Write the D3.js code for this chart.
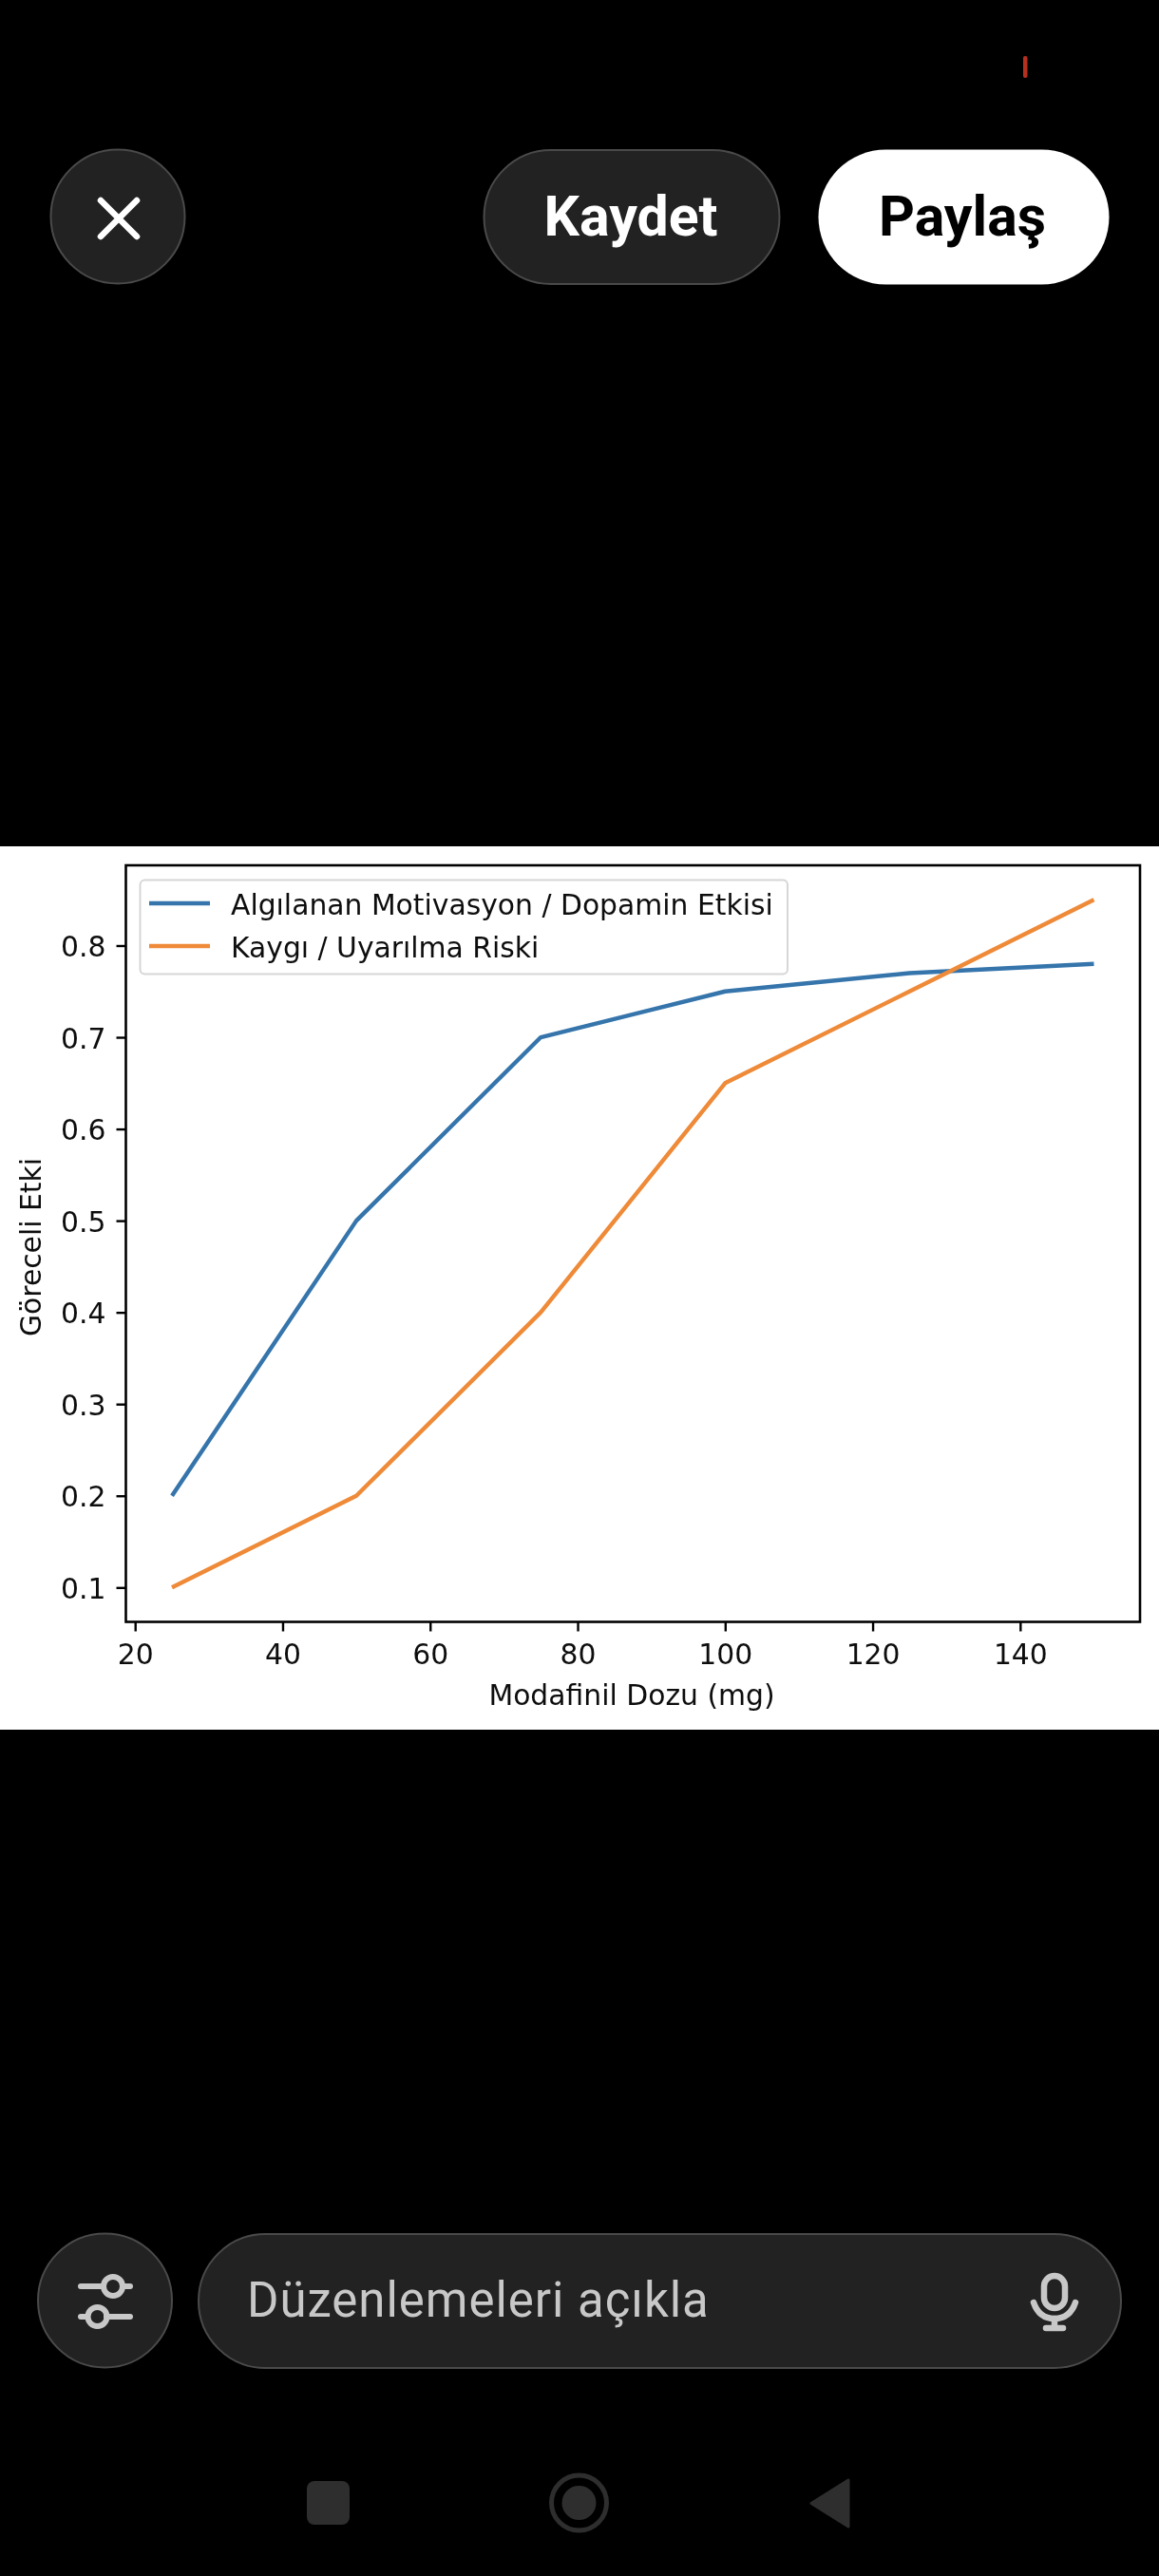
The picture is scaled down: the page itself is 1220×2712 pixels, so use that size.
<!DOCTYPE html>
<html>
<head>
<meta charset="utf-8">
<script src="https://cdn.jsdelivr.net/npm/d3@7"></script>
<style>
  html, body { margin: 0; padding: 0; background: #000; }
  svg { display: block; }
  .chart text { font-family: "DejaVu Sans", sans-serif; fill: #111; }
</style>
</head>
<body>
<svg id="canvas"></svg>
<script>
let doses = [25, 50, 75, 100, 125, 150];
let motivation = [0.2, 0.5, 0.7, 0.75, 0.77, 0.78];
let anxiety = [0.1, 0.2, 0.4, 0.65, 0.75, 0.85];
let seriesNames = ['Algılanan Motivasyon / Dopamin Etkisi', 'Kaygı / Uyarılma Riski'];
let seriesColors = ['#3574ab', '#ee8a38'];
let xTicks = [20, 40, 60, 80, 100, 120, 140];
let yTicks = [0.1, 0.2, 0.3, 0.4, 0.5, 0.6, 0.7, 0.8];

let width = 1220;
let height = 2712;
let plot = { left: 132.5, right: 1200, top: 911, bottom: 1707.5 };
let chartFont = 29.8;

let canvas = d3.select('#canvas')
    .attr('width', width)
    .attr('height', height)
    .attr('viewBox', `0 0 ${width} ${height}`);

let defs = canvas.append('defs');
defs.append('filter')
    .attr('id', 'soft')
    .append('feGaussianBlur')
    .attr('stdDeviation', 0.65);

let xScale = d3.scaleLinear().domain([18.75, 156.25]).range([plot.left, plot.right]);
let yScale = d3.scaleLinear().domain([0.0625, 0.8875]).range([plot.bottom, plot.top]);

let drawChart = () => {
    canvas.append('rect')
        .attr('x', 0).attr('y', 891)
        .attr('width', width).attr('height', 930)
        .attr('fill', '#fff');

    let chart = canvas.append('g')
        .attr('class', 'chart')
        .attr('filter', 'url(#soft)');

    let lineGen = d3.line()
        .x((d, i) => xScale(doses[i]))
        .y(d => yScale(d));

    [motivation, anxiety].forEach((values, i) => {
        chart.append('path')
            .attr('d', lineGen(values))
            .attr('fill', 'none')
            .attr('stroke', seriesColors[i])
            .attr('stroke-width', 4.4)
            .attr('stroke-linejoin', 'round');
    });

    let xAxis = d3.axisBottom(xScale).tickValues(xTicks).tickSize(10).tickPadding(13);
    let yAxis = d3.axisLeft(yScale).tickValues(yTicks).tickSize(10).tickPadding(11).tickFormat(d3.format('.1f'));

    let gx = chart.append('g')
        .attr('transform', `translate(0, ${plot.bottom})`)
        .call(xAxis);
    let gy = chart.append('g')
        .attr('transform', `translate(${plot.left}, 0)`)
        .call(yAxis);

    [gx, gy].forEach(g => {
        g.select('.domain').remove();
        g.selectAll('line').attr('stroke', '#000').attr('stroke-width', 2.4);
        g.selectAll('text').attr('font-size', chartFont).attr('fill', '#111');
    });
    gy.selectAll('text').attr('dy', '0.37em');

    chart.append('rect')
        .attr('x', plot.left).attr('y', plot.top)
        .attr('width', plot.right - plot.left).attr('height', plot.bottom - plot.top)
        .attr('fill', 'none')
        .attr('stroke', '#000')
        .attr('stroke-width', 2.6);

    chart.append('text')
        .attr('x', 665).attr('y', 1795)
        .attr('text-anchor', 'middle')
        .attr('font-size', chartFont)
        .text('Modafinil Dozu (mg)');

    chart.append('text')
        .attr('transform', 'translate(43, 1313) rotate(-90)')
        .attr('text-anchor', 'middle')
        .attr('font-size', chartFont)
        .text('Göreceli Etki');

    // legend
    let legend = chart.append('g');
    legend.append('rect')
        .attr('x', 147.5).attr('y', 926.5)
        .attr('width', 681.5).attr('height', 99)
        .attr('rx', 5)
        .attr('fill', '#fff')
        .attr('stroke', '#d6d6d6')
        .attr('stroke-width', 2);

    seriesNames.forEach((name, i) => {
        let y = 951 + i * 45;
        legend.append('line')
            .attr('x1', 157).attr('x2', 221)
            .attr('y1', y).attr('y2', y)
            .attr('stroke', seriesColors[i])
            .attr('stroke-width', 4.4);
        legend.append('text')
            .attr('x', 243).attr('y', y + 11.5)
            .attr('font-size', chartFont)
            .text(name);
    });
};

let drawTopBar = () => {
    // status bar speck
    canvas.append('rect')
        .attr('x', 1077).attr('y', 59)
        .attr('width', 4.5).attr('height', 23)
        .attr('rx', 2)
        .attr('fill', '#b5301f');

    canvas.append('circle')
        .attr('cx', 124).attr('cy', 228).attr('r', 70.5)
        .attr('fill', '#222').attr('stroke', '#4a4a4a').attr('stroke-width', 2);

    canvas.append('path')
        .attr('d', 'M106 211 L144 249 M144 211 L106 249')
        .attr('stroke', '#fff').attr('stroke-width', 6.5).attr('stroke-linecap', 'round');

    canvas.append('rect')
        .attr('x', 509.5).attr('y', 158)
        .attr('width', 311).attr('height', 141)
        .attr('rx', 70.5)
        .attr('fill', '#222').attr('stroke', '#4a4a4a').attr('stroke-width', 2);

    canvas.append('text')
        .attr('x', 664).attr('y', 248)
        .attr('text-anchor', 'middle')
        .attr('font-family', 'Roboto, sans-serif')
        .attr('font-weight', 700)
        .attr('font-size', 59)
        .attr('fill', '#fff')
        .text('Kaydet');

    canvas.append('rect')
        .attr('x', 861.5).attr('y', 157.5)
        .attr('width', 306).attr('height', 142)
        .attr('rx', 71)
        .attr('fill', '#fff');

    canvas.append('text')
        .attr('x', 1013).attr('y', 248)
        .attr('text-anchor', 'middle')
        .attr('font-family', 'Roboto, sans-serif')
        .attr('font-weight', 700)
        .attr('font-size', 59)
        .attr('fill', '#000')
        .text('Paylaş');
};

let drawBottomBar = () => {
    let iconColor = '#c8c8c8';

    canvas.append('circle')
        .attr('cx', 110.5).attr('cy', 2422).attr('r', 70.5)
        .attr('fill', '#222').attr('stroke', '#4a4a4a').attr('stroke-width', 2);

    let sliders = canvas.append('g')
        .attr('fill', 'none')
        .attr('stroke', iconColor)
        .attr('stroke-width', 6)
        .attr('stroke-linecap', 'round');
    sliders.append('path').attr('d', 'M85 2407 H109 M129 2407 H137');
    sliders.append('circle').attr('cx', 119).attr('cy', 2407).attr('r', 10);
    sliders.append('path').attr('d', 'M85 2439 H92 M112 2439 H137');
    sliders.append('circle').attr('cx', 102.5).attr('cy', 2439).attr('r', 10);

    canvas.append('rect')
        .attr('x', 209).attr('y', 2352)
        .attr('width', 971).attr('height', 141)
        .attr('rx', 70.5)
        .attr('fill', '#222').attr('stroke', '#4a4a4a').attr('stroke-width', 2);

    canvas.append('text')
        .attr('x', 260).attr('y', 2439)
        .attr('font-family', 'Roboto, sans-serif')
        .attr('font-size', 51)
        .attr('letter-spacing', 0.95)
        .attr('fill', iconColor)
        .text('Düzenlemeleri açıkla');

    let mic = canvas.append('g')
        .attr('fill', 'none')
        .attr('stroke', iconColor)
        .attr('stroke-width', 6.5)
        .attr('stroke-linecap', 'round');
    mic.append('rect')
        .attr('x', 1099).attr('y', 2396)
        .attr('width', 22).attr('height', 34)
        .attr('rx', 11);
    mic.append('path').attr('d', 'M1088 2424 C1092 2436 1100 2441 1110 2441 C1120 2441 1128 2436 1132 2424');
    mic.append('path').attr('d', 'M1110 2441 V2451 M1101 2451 H1119');

    // nav bar
    let navColor = '#2e2e2e';
    canvas.append('rect')
        .attr('x', 323).attr('y', 2612)
        .attr('width', 45).attr('height', 46)
        .attr('rx', 8)
        .attr('fill', navColor);
    canvas.append('circle')
        .attr('cx', 609.5).attr('cy', 2635).attr('r', 29)
        .attr('fill', 'none').attr('stroke', navColor).attr('stroke-width', 5);
    canvas.append('circle')
        .attr('cx', 609.5).attr('cy', 2635).attr('r', 18)
        .attr('fill', navColor);
    canvas.append('path')
        .attr('d', 'M893 2611 V2660 L854 2635.5 Z')
        .attr('fill', navColor)
        .attr('stroke', navColor)
        .attr('stroke-width', 3)
        .attr('stroke-linejoin', 'round');
};

drawTopBar();
drawChart();
drawBottomBar();
</script>
</body>
</html>
